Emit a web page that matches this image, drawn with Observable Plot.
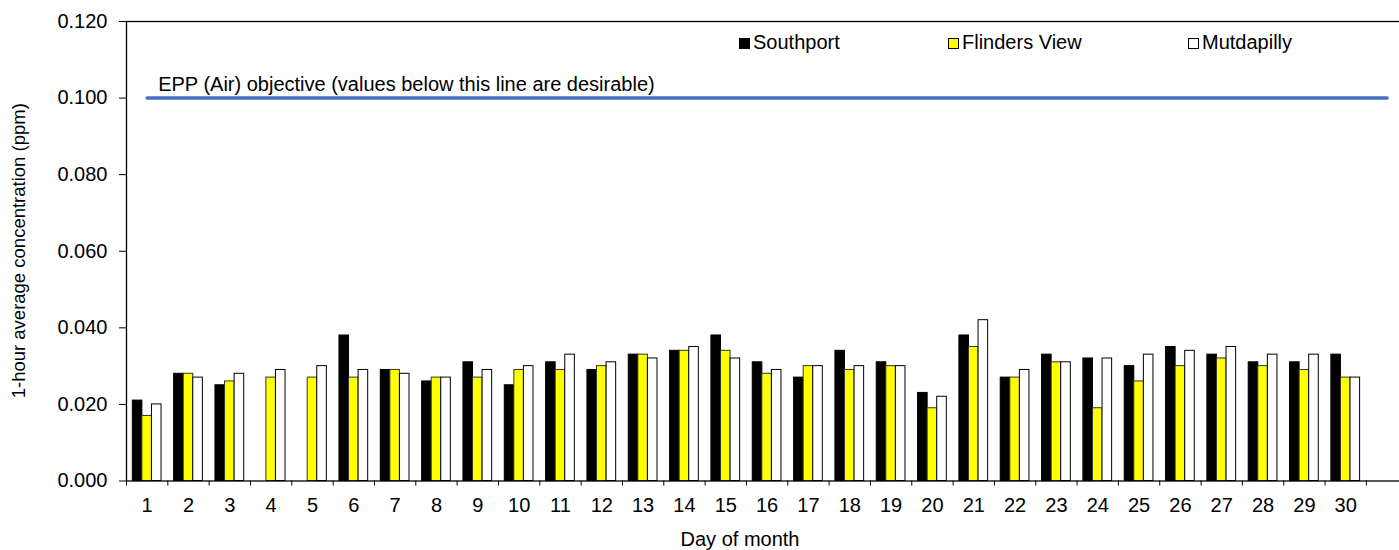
<!DOCTYPE html>
<html><head><meta charset="utf-8">
<script src="https://cdn.jsdelivr.net/npm/d3@7"></script>
<script src="https://cdn.jsdelivr.net/npm/@observablehq/plot@0.6"></script>
<style>
body{margin:0;overflow:hidden;background:#fff;font-family:"Liberation Sans",Arial,sans-serif;}
#wrap{position:relative;width:1399px;height:550px;overflow:hidden;background:#fff;}
#wrap svg{position:absolute;left:0;top:0;max-width:none !important;width:1410px !important;height:550px !important;}
.leg{position:absolute;top:32px;font-size:20px;line-height:20px;white-space:nowrap;color:#000;}
.sw{position:absolute;width:9px;height:9px;border:1px solid #000;box-sizing:content-box;}
#xtitle{position:absolute;top:529px;font-size:20px;line-height:20px;white-space:nowrap;transform:translateX(-50%);color:#000;}
</style>
</head><body><div id="wrap"></div>
<script>
const days = [1,2,3,4,5,6,7,8,9,10,11,12,13,14,15,16,17,18,19,20,21,22,23,24,25,26,27,28,29,30];
const slots = [...days, 31];
const seriesNames = ["Southport","Flinders View","Mutdapilly"];
const southport = [0.021,0.028,0.025,null,null,0.038,0.029,0.026,0.031,0.025,0.031,0.029,0.033,0.034,0.038,0.031,0.027,0.034,0.031,0.023,0.038,0.027,0.033,0.032,0.030,0.035,0.033,0.031,0.031,0.033];
const flindersView = [0.017,0.028,0.026,0.027,0.027,0.027,0.029,0.027,0.027,0.029,0.029,0.030,0.033,0.034,0.034,0.028,0.030,0.029,0.030,0.019,0.035,0.027,0.031,0.019,0.026,0.030,0.032,0.030,0.029,0.027];
const mutdapilly = [0.020,0.027,0.028,0.029,0.030,0.029,0.028,0.027,0.029,0.030,0.033,0.031,0.032,0.035,0.032,0.029,0.030,0.030,0.030,0.022,0.042,0.029,0.031,0.032,0.033,0.034,0.035,0.033,0.033,0.027];
const objectiveValue = 0.1;
const objectiveLabel = "EPP (Air) objective (values below this line are desirable)";
const yTicks = [0,0.02,0.04,0.06,0.08,0.10,0.12];
const xTitle = "Day of month";
const yTitle = "1-hour average concentration (ppm)";

const fills = ["#000000","#ffff00","#ffffff"];
const strokes = ["#000000","#333333","#000000"];
const seriesValues = [southport, flindersView, mutdapilly];

const ML = 126, BW = 41.33, W = 1410;
const MR = W - ML - BW * slots.length;
const gap = 6.3, barW = (BW - 2 * gap) / 3;

const barMarks = seriesValues.map((vals, i) => {
  const rows = days.map((d, j) => ({day: d, value: vals[j]})).filter(r => r.value != null);
  return Plot.barY(rows, {
    x: "day", y: "value", fill: fills[i], stroke: strokes[i], strokeWidth: 1,
    insetLeft: gap + i * barW, insetRight: gap + (2 - i) * barW
  });
});

const chart = Plot.plot({
  width: W, height: 550,
  marginLeft: ML, marginRight: MR, marginTop: 21, marginBottom: 69.5,
  x: {type: "band", domain: slots, padding: 0, round: false},
  y: {domain: [0, 0.12]},
  style: {fontFamily: "'Liberation Sans', Arial, sans-serif", fontSize: "20px", color: "#000", background: "#fff", maxWidth: "none"},
  marks: [
    ...barMarks,
    Plot.lineY(slots, {x: d => d, y: () => objectiveValue, stroke: "#4472C4", strokeWidth: 3.5}),
    Plot.text([objectiveLabel], {x: () => 1, y: () => objectiveValue, text: d => d, textAnchor: "start", lineAnchor: "bottom", dx: 11, dy: -7, fontSize: 20, fill: "#000"}),
    Plot.frame({stroke: "#000", strokeWidth: 1.3}),
    Plot.axisY({ticks: yTicks, tickFormat: d3.format(".3f"), tickSize: 7, tickPadding: 12, label: null, stroke: "#000"}),
    Plot.axisX({ticks: days, tickSize: 0, tickPadding: 17, label: null}),
    Plot.axisX({ticks: slots, tickSize: 5, text: null, dx: -BW / 2, label: null, stroke: "#000"})
  ]
});

const wrap = document.getElementById("wrap");
wrap.appendChild(chart);

// y title
const svgNS = "http://www.w3.org/2000/svg";
const yt = document.createElementNS(svgNS, "text");
yt.setAttribute("transform", `translate(25,${(21 + 480.5) / 2}) rotate(-90)`);
yt.setAttribute("text-anchor", "middle");
yt.setAttribute("font-size", "18.5");
yt.setAttribute("font-family", "'Liberation Sans', Arial, sans-serif");
yt.textContent = yTitle;
chart.appendChild(yt);

// x title
const xt = document.createElement("div");
xt.id = "xtitle";
xt.style.left = "740px";
xt.textContent = xTitle;
wrap.appendChild(xt);

// legend
const legX = [739, 948, 1188];
seriesNames.forEach((name, i) => {
  const sw = document.createElement("div");
  sw.className = "sw";
  sw.style.left = legX[i] + "px";
  sw.style.top = "38px";
  sw.style.background = fills[i];
  wrap.appendChild(sw);
  const t = document.createElement("div");
  t.className = "leg";
  t.style.left = (legX[i] + 14) + "px";
  t.textContent = name;
  wrap.appendChild(t);
});
</script>
</body></html>
